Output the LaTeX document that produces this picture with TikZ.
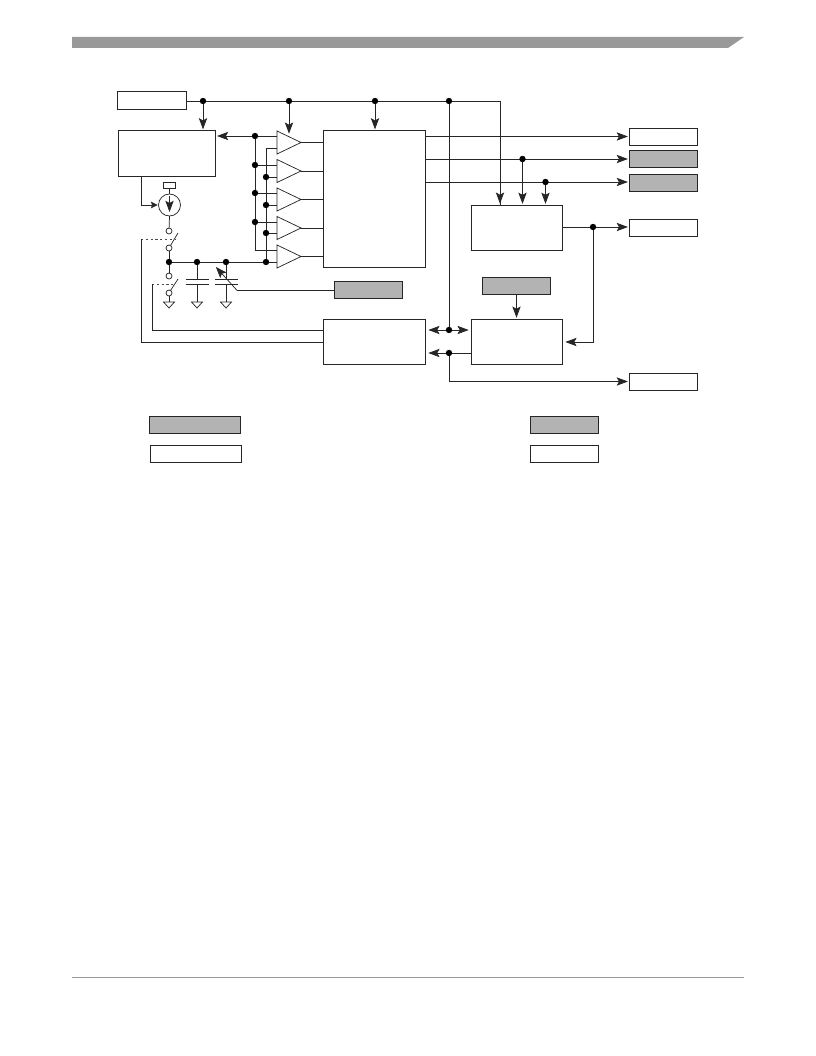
\documentclass[tikz,border=0pt]{standalone}
\usetikzlibrary{arrows.meta,calc}
\definecolor{barg}{HTML}{999999}
\definecolor{boxg}{HTML}{B3B3B3}
\tikzset{
  wire/.style={line width=0.55pt,draw=black!85},
  arr/.style={wire,shorten >=1pt,-{Stealth[length=8.4pt,width=6.2pt,inset=1.7pt]}},
  sarr/.style={wire,shorten >=1pt,-{Stealth[length=5pt,width=5pt,inset=0.8pt]}},
  darr/.style={wire,shorten >=1pt,shorten <=1pt,{Stealth[length=8.4pt,width=6.2pt,inset=1.7pt]}-{Stealth[length=8.4pt,width=6.2pt,inset=1.7pt]}},
  block/.style={draw=black!85,line width=0.6pt,fill=white,inner sep=0pt,outer sep=0pt},
  wbox/.style={block,minimum width=51.4pt,minimum height=12.9pt},
  gbox/.style={wbox,fill=boxg},
  dot/.style={fill=black,draw=none},
  gnd/.style={wire,fill=white},
  amp/.style={wire,fill=white},
  pin/.style={wire,fill=white},
  ctlline/.style={line width=0.45pt,draw=black!70,dash pattern=on 1.6pt off 2pt},
}
\newcommand{\jn}[1]{\fill[dot] (#1) circle[radius=3.2];}
\begin{document}
\begin{tikzpicture}[x=0.75pt,y=-0.75pt]
\useasboundingbox (0,0) rectangle (816,1056);
% page furniture
\fill[barg] (72,37) -- (744,37) -- (728,48) -- (72,48) -- cycle;
\draw[barg,line width=0.7pt] (72,977) -- (744,977);
% blocks
\node[wbox] (src) at (152,100.5) {};
\node[block,minimum width=73pt,minimum height=34.5pt] (ctl) at (167,153.7) {};
\node[block,minimum width=76.8pt,minimum height=102.75pt] (mid) at (374.5,199.2) {};
\node[block,minimum width=76.8pt,minimum height=34pt] (low) at (374.5,341.7) {};
\node[block,minimum width=68pt,minimum height=34.25pt] (cnt) at (517,228) {};
\node[block,minimum width=68pt,minimum height=34pt] (cmp) at (517,341.7) {};
\node[wbox] (o1) at (663.5,136.5) {};
\node[gbox] (o2) at (663.5,159) {};
\node[gbox] (o3) at (663.5,182.5) {};
\node[wbox] (o4) at (663.5,227.5) {};
\node[wbox] (o5) at (663.5,381.5) {};
\node[gbox] (vr) at (368.5,289.5) {};
\node[gbox] (ref) at (516.5,285.5) {};
\node[gbox,minimum width=68pt] (k1) at (195,425) {};
\node[wbox,minimum width=68pt] (k2) at (196,454) {};
\node[gbox] (k3) at (564.5,425) {};
\node[wbox] (k4) at (564.5,454) {};
% junctions
\coordinate (t1) at (203,101);
\coordinate (t2) at (289,101);
\coordinate (t3) at (375,101);
\coordinate (t4) at (449,101);
\coordinate (t5) at (500,101);
\coordinate (in1) at (500,205);
\coordinate (u1) at (255,136);
\coordinate (u2) at (255,165);
\coordinate (u3) at (255,193);
\coordinate (u4) at (255,222);
\coordinate (u5) at (255,250);
\coordinate (w1) at (266,148);
\coordinate (w2) at (266,177);
\coordinate (w3) at (266,205);
\coordinate (w4) at (266,233);
\coordinate (w5) at (266,262);
\coordinate (n0) at (169,262);
\coordinate (n1) at (197,262);
\coordinate (n2) at (226,262);
\coordinate (b1) at (449,330);
\coordinate (b2) at (449,353);
\coordinate (v1) at (522.5,159);
\coordinate (v2) at (545.5,182);
\coordinate (f1) at (593,227);
% top rail
\draw[wire] (src.east |- t1) -- (t5) -- (in1);
\draw[arr] (t5) -- (in1);
\draw[arr] (t1) -- (t1 |- ctl.north);
\draw[arr] (t2) -- (289,135);
\draw[arr] (t3) -- (t3 |- mid.north);
\draw[wire] (t4) -- (b1);
% amplifiers
\foreach \i/\yc in {1/142.5,2/171,3/199.5,4/228,5/256.5}{
  \draw[amp] (277,\yc-11.5) -- (301,\yc) -- (277,\yc+11.5) -- cycle;
  \coordinate (ap\i) at (301,\yc);
  \draw[wire] (ap\i) -- (ap\i -| mid.west);
}
\draw[wire] (u1) -- (u5) -- (277,250);
\draw[wire] (w1) -- (w5);
\draw[wire] (277,148) -- (w1);
\foreach \i in {1,2,3,4}{\draw[wire] (u\i) -- (277,0 |- u\i);}
\foreach \i in {2,3,4,5}{\draw[wire] (w\i) -- (277,0 |- w\i);}
\draw[arr] (u1) -- (u1 -| ctl.east);
% outputs of the centre block
\draw[arr] (mid.east |- o1) -- (o1.west);
\draw[arr] (mid.east |- v1) -- (o2.west |- v1);
\draw[arr] (mid.east |- v2) -- (o3.west |- v2);
\draw[arr] (v1) -- (v1 |- cnt.north);
\draw[arr] (v2) -- (v2 |- cnt.north);
\draw[arr] (cnt.east |- f1) -- (o4.west |- f1);
\draw[arr] (f1) |- (564,342);
\draw[arr] (ref.south) -- (ref.south |- cmp.north);
\draw[darr] (427,330) -- (470,330);
\draw[arr] (cmp.west |- b2) -- (427,353);
\draw[arr] (b2) |- (o5.west);
% current source and switches
\coordinate (cs) at (169.5,205);
\node[block,minimum width=9pt,minimum height=4.5pt] (trim) at (169.5,185) {};
\draw[wire] (trim.south) -- (169.5,194);
\draw[wire] (cs) circle[radius=11];
\draw[arr] (169.5,196) -- (169.5,213.3);
\coordinate (ctlout) at (141,177);
\draw[sarr] (ctlout) |- (159,205);
\coordinate (s1) at (169,231);
\coordinate (s2) at (169,248);
\coordinate (s3) at (169,276);
\coordinate (s4) at (169,293);
\draw[wire] (169.5,216) -- (s1);
\draw[wire] (s2) -- (n0);
\draw[wire] (n0) -- (s3);
\draw[wire] (s4) -- (169,302);
\draw[wire] (170.5,245.5) -- (178,233);
\draw[wire] (170.5,290.5) -- (178,279);
\draw[pin] (s1) circle[radius=3];
\draw[pin] (s2) circle[radius=3];
\draw[pin] (s3) circle[radius=3];
\draw[pin] (s4) circle[radius=3];
\draw[ctlline] (141,239) -- (175,239);
\draw[ctlline] (152,284) -- (173,284);
\draw[wire] (141,239) |- (low.west |- 0,342);
\draw[wire] (152,284) |- (low.west |- 0,330);
% node rail and capacitors
\draw[wire] (n0) -- (277,262);
\draw[wire] (n1) -- (197,279);
\draw[wire] (197,284) -- (197,302);
\draw[wire] (n2) -- (226,279);
\draw[wire] (226,284) -- (226,302);
\foreach \x in {197,226}{
  \draw[wire] (\x-11.5,279) -- (\x+11.5,279);
  \draw[wire] (\x-11.5,284) -- (\x+11.5,284);
}
\foreach \x in {169,197,226}{
  \draw[gnd] (\x-5.5,302) -- (\x+5.5,302) -- (\x,308) -- cycle;
}
\coordinate (vk) at (237,290.4);
\draw[wire] (vr.west |- vk) -- (vk);
\draw[arr] (vk) -- (215,266);
% dots
\foreach \p in {t1,t2,t3,t4,u1,u2,u3,u4,w2,w3,w4,w5,n0,n1,n2,b1,b2,v1,v2,f1}{\jn{\p}}
\end{tikzpicture}
\end{document}
